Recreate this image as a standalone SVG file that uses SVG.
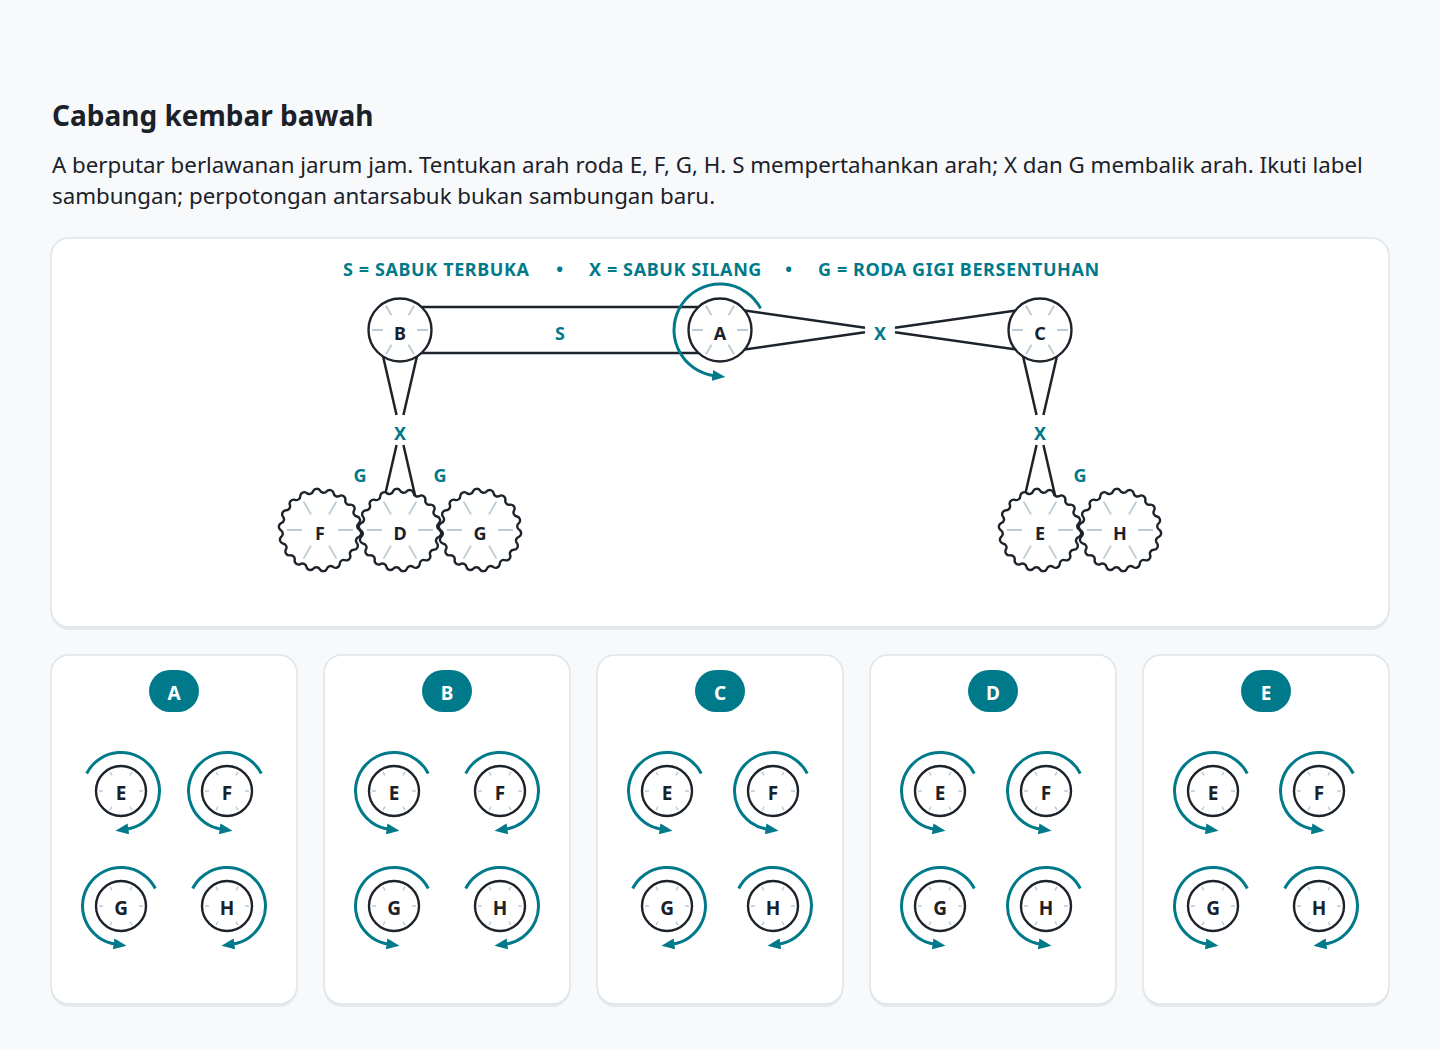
<svg xmlns="http://www.w3.org/2000/svg" xmlns:xlink="http://www.w3.org/1999/xlink" width="1440" height="1050" viewBox="0 0 1440 1050">
<style>
.t{font-family:"Noto Sans","Open Sans","DejaVu Sans",sans-serif}
.title{font-size:28px;font-weight:700;fill:#1b2129}
.sub{font-size:22.3px;fill:#1b2129}
.leg{font-size:18px;font-weight:700;fill:#007a8a;letter-spacing:0.6px}
.lbl{font-size:18px;font-weight:700;fill:#007a8a;text-anchor:middle}
.nl{font-size:18px;font-weight:700;fill:#1b2129;text-anchor:middle}
.sl{font-size:19px;font-weight:700;fill:#1b2129;text-anchor:middle}
.pl{font-size:19px;font-weight:700;fill:#ffffff;text-anchor:middle}
.panel{fill:#ffffff;stroke:#dde5ea;stroke-width:1.5}
.shadow{fill:#e4eaee}
.belt{stroke:#1d232b;stroke-width:2.5;fill:none;stroke-linecap:butt}
.wheel{fill:#ffffff;stroke:#1d232b;stroke-width:2.4}
.spk{stroke:#bccad3;stroke-width:1.8;fill:none}
.spks{stroke:#bccad3;stroke-width:1.4;fill:none}
.rot{fill:none;stroke:#007a8a;stroke-width:3;marker-end:url(#ah)}
.pill{fill:#007a8a}
</style>
<defs>
<marker id="ah" markerUnits="userSpaceOnUse" markerWidth="14" markerHeight="11" refX="2" refY="5.5" orient="auto">
<path d="M0,0 L13,5.5 L0,11 Z" fill="#007a8a"/>
</marker>
<path id="gear" d="M39.5,0 A4,4 0 0 1 38.9,6.86 A4,4 0 0 0 37.12,13.51 A4,4 0 0 1 34.21,19.75 A4,4 0 0 0 30.26,25.39 A4,4 0 0 1 25.39,30.26 A4,4 0 0 0 19.75,34.21 A4,4 0 0 1 13.51,37.12 A4,4 0 0 0 6.86,38.9 A4,4 0 0 1 0,39.5 A4,4 0 0 0 -6.86,38.9 A4,4 0 0 1 -13.51,37.12 A4,4 0 0 0 -19.75,34.21 A4,4 0 0 1 -25.39,30.26 A4,4 0 0 0 -30.26,25.39 A4,4 0 0 1 -34.21,19.75 A4,4 0 0 0 -37.12,13.51 A4,4 0 0 1 -38.9,6.86 A4,4 0 0 0 -39.5,0 A4,4 0 0 1 -38.9,-6.86 A4,4 0 0 0 -37.12,-13.51 A4,4 0 0 1 -34.21,-19.75 A4,4 0 0 0 -30.26,-25.39 A4,4 0 0 1 -25.39,-30.26 A4,4 0 0 0 -19.75,-34.21 A4,4 0 0 1 -13.51,-37.12 A4,4 0 0 0 -6.86,-38.9 A4,4 0 0 1 0,-39.5 A4,4 0 0 0 6.86,-38.9 A4,4 0 0 1 13.51,-37.12 A4,4 0 0 0 19.75,-34.21 A4,4 0 0 1 25.39,-30.26 A4,4 0 0 0 30.26,-25.39 A4,4 0 0 1 34.21,-19.75 A4,4 0 0 0 37.12,-13.51 A4,4 0 0 1 38.9,-6.86 A4,4 0 0 0 39.5,0 Z"/>
<path id="spkL" d="M17,0H28 M-17,0H-28 M8.5,14.72L14,24.25 M-8.5,14.72L-14,24.25 M8.5,-14.72L14,-24.25 M-8.5,-14.72L-14,-24.25"/>
<path id="spkG" d="M18,0H33 M-18,0H-33 M9,15.59L16.5,28.58 M-9,15.59L-16.5,28.58 M9,-15.59L16.5,-28.58 M-9,-15.59L-16.5,-28.58"/>
<path id="spkS" d="M18,0H22 M-18,0H-22 M9,15.59L11,19.05 M-9,15.59L-11,19.05 M9,-15.59L11,-19.05 M-9,-15.59L-11,-19.05"/>
<g id="pulley"><circle r="31.5" class="wheel"/><use href="#spkL" class="spk"/></g>
<g id="gearW"><use href="#gear" class="wheel"/><use href="#spkG" class="spk"/></g>
<g id="small"><circle r="25" class="wheel"/><use href="#spkS" class="spks"/></g>
</defs>

<rect width="1440" height="1050" fill="#f7f9fb"/>

<g id="header" class="t">
<text class="title" x="52" y="126">Cabang kembar bawah</text>
<text class="sub" x="52" y="173">A berputar berlawanan jarum jam. Tentukan arah roda E, F, G, H. S mempertahankan arah; X dan G membalik arah. Ikuti label</text>
<text class="sub" x="52" y="204">sambungan; perpotongan antarsabuk bukan sambungan baru.</text>
</g>

<g id="main-panel">
<rect x="51" y="241" width="1338" height="389" rx="18" class="shadow"/>
<rect x="51" y="238" width="1338" height="389" rx="18" class="panel"/>
</g>

<g id="legend" class="t">
<text class="leg" x="343" y="276">S = SABUK TERBUKA</text>
<text class="leg" x="560" y="276" text-anchor="middle">•</text>
<text class="leg" x="589" y="276">X = SABUK SILANG</text>
<text class="leg" x="789" y="276" text-anchor="middle">•</text>
<text class="leg" x="818" y="276">G = RODA GIGI BERSENTUHAN</text>
</g>

<g id="connectors">
<path class="belt" d="M400,307 H720 M400,353 H720"/>
<path class="belt" d="M720,307 L865,327.84 M895,332.16 L1040,353 M720,353 L865,332.16 M895,327.84 L1040,307"/>
<path class="belt" d="M377,330 L396.55,415 M403.45,445 L423,530 M423,330 L403.45,415 M396.55,445 L377,530"/>
<path class="belt" d="M1017,330 L1036.55,415 M1043.45,445 L1063,530 M1063,330 L1043.45,415 M1036.55,445 L1017,530"/>
<g class="t">
<text class="lbl" x="560" y="340">S</text>
<text class="lbl" x="880" y="340">X</text>
<text class="lbl" x="400" y="440">X</text>
<text class="lbl" x="1040" y="440">X</text>
<text class="lbl" x="360" y="481.5">G</text>
<text class="lbl" x="440" y="481.5">G</text>
<text class="lbl" x="1080" y="481.5">G</text>
</g>
</g>

<g id="node-B" transform="translate(400,330)"><use href="#pulley"/><text class="t nl" y="9.5">B</text></g>
<g id="node-A" transform="translate(720,330)"><use href="#pulley"/><text class="t nl" y="9.5">A</text>
<path class="rot" d="M40.6,-21.6 A46,46 0 1 0 -5.6,45.7"/></g>
<g id="node-C" transform="translate(1040,330)"><use href="#pulley"/><text class="t nl" y="9.5">C</text></g>
<g id="node-F" transform="translate(320,530)"><use href="#gearW"/><text class="t nl" y="9.5">F</text></g>
<g id="node-D" transform="translate(400,530)"><use href="#gearW"/><text class="t nl" y="9.5">D</text></g>
<g id="node-G" transform="translate(480,530)"><use href="#gearW"/><text class="t nl" y="9.5">G</text></g>
<g id="node-E" transform="translate(1040,530)"><use href="#gearW"/><text class="t nl" y="9.5">E</text></g>
<g id="node-H" transform="translate(1120,530)"><use href="#gearW"/><text class="t nl" y="9.5">H</text></g>

<!-- option cards -->
<g id="card-A">
<rect x="51" y="658" width="246" height="349" rx="18" class="shadow"/>
<rect x="51" y="655" width="246" height="349" rx="18" class="panel"/>
<rect x="149" y="670" width="50" height="42" rx="21" class="pill"/>
<text class="t pl" x="174" y="700">A</text>
<g transform="translate(121,791)"><use href="#small"/><text class="t sl" y="9">E</text><path class="rot" d="M-34.3,-17.5 A38.5,38.5 0 1 1 5.36,38.13"/></g>
<g transform="translate(227,791)"><use href="#small"/><text class="t sl" y="9">F</text><path class="rot" d="M34.3,-17.5 A38.5,38.5 0 1 0 -5.36,38.13"/></g>
<g transform="translate(121,906)"><use href="#small"/><text class="t sl" y="9">G</text><path class="rot" d="M34.3,-17.5 A38.5,38.5 0 1 0 -5.36,38.13"/></g>
<g transform="translate(227,906)"><use href="#small"/><text class="t sl" y="9">H</text><path class="rot" d="M-34.3,-17.5 A38.5,38.5 0 1 1 5.36,38.13"/></g>
</g>

<g id="card-B">
<rect x="324" y="658" width="246" height="349" rx="18" class="shadow"/>
<rect x="324" y="655" width="246" height="349" rx="18" class="panel"/>
<rect x="422" y="670" width="50" height="42" rx="21" class="pill"/>
<text class="t pl" x="447" y="700">B</text>
<g transform="translate(394,791)"><use href="#small"/><text class="t sl" y="9">E</text><path class="rot" d="M34.3,-17.5 A38.5,38.5 0 1 0 -5.36,38.13"/></g>
<g transform="translate(500,791)"><use href="#small"/><text class="t sl" y="9">F</text><path class="rot" d="M-34.3,-17.5 A38.5,38.5 0 1 1 5.36,38.13"/></g>
<g transform="translate(394,906)"><use href="#small"/><text class="t sl" y="9">G</text><path class="rot" d="M34.3,-17.5 A38.5,38.5 0 1 0 -5.36,38.13"/></g>
<g transform="translate(500,906)"><use href="#small"/><text class="t sl" y="9">H</text><path class="rot" d="M-34.3,-17.5 A38.5,38.5 0 1 1 5.36,38.13"/></g>
</g>

<g id="card-C">
<rect x="597" y="658" width="246" height="349" rx="18" class="shadow"/>
<rect x="597" y="655" width="246" height="349" rx="18" class="panel"/>
<rect x="695" y="670" width="50" height="42" rx="21" class="pill"/>
<text class="t pl" x="720" y="700">C</text>
<g transform="translate(667,791)"><use href="#small"/><text class="t sl" y="9">E</text><path class="rot" d="M34.3,-17.5 A38.5,38.5 0 1 0 -5.36,38.13"/></g>
<g transform="translate(773,791)"><use href="#small"/><text class="t sl" y="9">F</text><path class="rot" d="M34.3,-17.5 A38.5,38.5 0 1 0 -5.36,38.13"/></g>
<g transform="translate(667,906)"><use href="#small"/><text class="t sl" y="9">G</text><path class="rot" d="M-34.3,-17.5 A38.5,38.5 0 1 1 5.36,38.13"/></g>
<g transform="translate(773,906)"><use href="#small"/><text class="t sl" y="9">H</text><path class="rot" d="M-34.3,-17.5 A38.5,38.5 0 1 1 5.36,38.13"/></g>
</g>

<g id="card-D">
<rect x="870" y="658" width="246" height="349" rx="18" class="shadow"/>
<rect x="870" y="655" width="246" height="349" rx="18" class="panel"/>
<rect x="968" y="670" width="50" height="42" rx="21" class="pill"/>
<text class="t pl" x="993" y="700">D</text>
<g transform="translate(940,791)"><use href="#small"/><text class="t sl" y="9">E</text><path class="rot" d="M34.3,-17.5 A38.5,38.5 0 1 0 -5.36,38.13"/></g>
<g transform="translate(1046,791)"><use href="#small"/><text class="t sl" y="9">F</text><path class="rot" d="M34.3,-17.5 A38.5,38.5 0 1 0 -5.36,38.13"/></g>
<g transform="translate(940,906)"><use href="#small"/><text class="t sl" y="9">G</text><path class="rot" d="M34.3,-17.5 A38.5,38.5 0 1 0 -5.36,38.13"/></g>
<g transform="translate(1046,906)"><use href="#small"/><text class="t sl" y="9">H</text><path class="rot" d="M34.3,-17.5 A38.5,38.5 0 1 0 -5.36,38.13"/></g>
</g>

<g id="card-E">
<rect x="1143" y="658" width="246" height="349" rx="18" class="shadow"/>
<rect x="1143" y="655" width="246" height="349" rx="18" class="panel"/>
<rect x="1241" y="670" width="50" height="42" rx="21" class="pill"/>
<text class="t pl" x="1266" y="700">E</text>
<g transform="translate(1213,791)"><use href="#small"/><text class="t sl" y="9">E</text><path class="rot" d="M34.3,-17.5 A38.5,38.5 0 1 0 -5.36,38.13"/></g>
<g transform="translate(1319,791)"><use href="#small"/><text class="t sl" y="9">F</text><path class="rot" d="M34.3,-17.5 A38.5,38.5 0 1 0 -5.36,38.13"/></g>
<g transform="translate(1213,906)"><use href="#small"/><text class="t sl" y="9">G</text><path class="rot" d="M34.3,-17.5 A38.5,38.5 0 1 0 -5.36,38.13"/></g>
<g transform="translate(1319,906)"><use href="#small"/><text class="t sl" y="9">H</text><path class="rot" d="M-34.3,-17.5 A38.5,38.5 0 1 1 5.36,38.13"/></g>
</g>
</svg>
